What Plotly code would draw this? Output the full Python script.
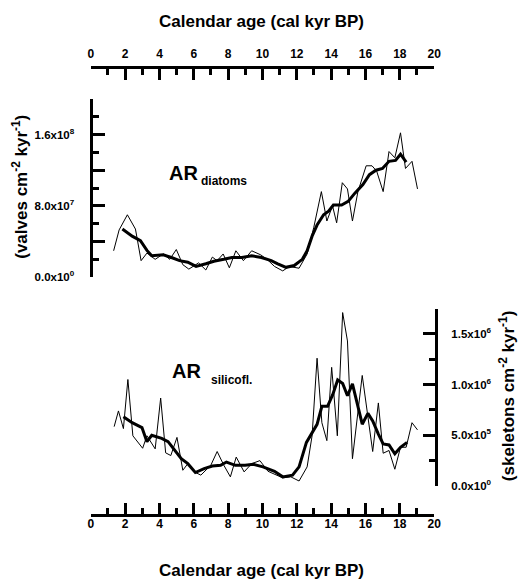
import plotly.graph_objects as go

# ---- data -------------------------------------------------------------
# Diatom accumulation rate (valves cm-2 kyr-1): raw record and smoothed curve
diat_age = [1.33, 1.65, 2.13, 2.6, 2.93, 3.27, 3.75, 4.22, 4.6, 4.98, 5.36, 5.71,
            6.28, 6.7, 7.08, 7.36, 7.71, 8.07, 8.45, 8.89, 9.37, 9.9, 10.32, 10.7,
            11.18, 11.56, 12.13, 12.6, 12.99, 13.43, 13.75, 14.08, 14.32, 14.65,
            14.95, 15.24, 15.56, 16.04, 16.38, 16.65, 17.03, 17.37, 17.71, 18.04,
            18.33, 18.71, 19.03]
diat_val = [2.96e7, 5.3e7, 7.0e7, 5.4e7, 1.85e7, 2.7e7, 2.0e7, 2.6e7, 2.0e7, 3.1e7,
            1.4e7, 0.9e7, 1.6e7, 0.8e7, 2.25e7, 1.85e7, 2.6e7, 1.05e7, 2.96e7, 1.85e7,
            2.96e7, 2.5e7, 1.9e7, 1.2e7, 0.7e7, 1.2e7, 1.0e7, 2.6e7, 5.6e7, 9.6e7,
            6.3e7, 8.0e7, 6.1e7, 10.6e7, 9.9e7, 6.3e7, 9.6e7, 12.5e7, 12.5e7, 11.9e7,
            9.6e7, 14.1e7, 13.4e7, 16.2e7, 12.2e7, 13.0e7, 9.9e7]

diat_sm_age = [1.84, 2.41, 2.89, 3.27, 3.55, 4.22, 4.7, 5.17, 5.65, 6.13, 6.7, 7.17,
               7.75, 8.22, 8.8, 9.37, 9.94, 10.51, 10.89, 11.37, 11.85, 12.32, 12.6,
               12.89, 13.18, 13.56, 13.85, 14.13, 14.61, 14.99, 15.37, 15.85, 16.23,
               16.61, 16.99, 17.37, 17.75, 18.04, 18.37]
diat_sm_val = [5.4e7, 4.6e7, 4.1e7, 3.0e7, 2.4e7, 2.5e7, 2.2e7, 1.85e7, 1.67e7, 1.2e7,
               1.5e7, 1.78e7, 2.0e7, 2.2e7, 2.2e7, 2.4e7, 2.2e7, 1.85e7, 1.5e7, 1.1e7,
               1.3e7, 2.0e7, 2.96e7, 4.6e7, 5.85e7, 7.0e7, 7.4e7, 8.1e7, 8.1e7, 8.5e7,
               9.4e7, 10.4e7, 11.5e7, 12.0e7, 12.2e7, 13.0e7, 13.1e7, 13.8e7, 12.9e7]

# Silicoflagellate accumulation rate (skeletons cm-2 kyr-1)
sil_age = [1.36, 1.61, 1.9, 2.16, 2.45, 2.76, 3.02, 3.27, 3.75, 4.07, 4.36, 4.66,
           5.02, 5.36, 5.65, 6.03, 6.41, 6.99, 7.36, 7.75, 8.13, 8.47, 8.93, 9.37,
           9.85, 10.32, 10.7, 11.18, 11.65, 12.13, 12.6, 12.89, 13.18, 13.46, 13.75,
           14.03, 14.36, 14.67, 14.95, 15.24, 15.81, 16.14, 16.42, 16.75, 17.03,
           17.37, 17.71, 18.04, 18.37, 18.71, 19.03]
sil_val = [5.85e5, 7.4e5, 5.66e5, 10.5e5, 4.95e5, 4.24e5, 3.72e5, 4.95e5, 3.66e5,
           8.67e5, 3.27e5, 3.0e5, 4.79e5, 1.55e5, 2.2e5, 1.39e5, 1.07e5, 2.04e5,
           3.4e5, 2.04e5, 0.9e5, 2.85e5, 1.39e5, 2.2e5, 2.5e5, 1.45e5, 1.13e5,
           0.8e5, 0.9e5, 0.49e5, 1.88e5, 4.95e5, 12.6e5, 6.24e5, 4.47e5, 11.7e5,
           4.95e5, 17.1e5, 14.3e5, 2.69e5, 10.9e5, 6.73e5, 3.4e5, 8.19e5, 3.23e5,
           3.5e5, 1.65e5, 3.82e5, 3.82e5, 6.24e5, 5.53e5]

sil_sm_age = [1.9, 2.41, 2.98, 3.27, 3.55, 4.13, 4.5, 4.88, 5.27, 5.65, 6.09, 6.6,
              7.08, 7.56, 7.9, 8.42, 8.99, 9.46, 10.03, 10.7, 11.18, 11.75, 12.13,
              12.56, 12.89, 13.18, 13.46, 13.79, 14.09, 14.38, 14.67, 14.95, 15.24,
              15.5, 15.81, 16.14, 16.42, 16.75, 17.03, 17.37, 17.71, 18.04, 18.42]
sil_sm_val = [6.83e5, 6.24e5, 5.76e5, 4.37e5, 5.0e5, 4.69e5, 4.37e5, 3.5e5, 2.69e5,
              2.2e5, 1.33e5, 1.72e5, 1.97e5, 2.04e5, 2.36e5, 2.04e5, 2.04e5, 2.14e5,
              1.88e5, 1.45e5, 0.9e5, 1.07e5, 1.88e5, 4.3e5, 5.27e5, 6.08e5, 7.86e5,
              7.86e5, 9.0e5, 10.46e5, 10.1e5, 8.9e5, 10.07e5, 8.19e5, 6.09e5, 7.16e5,
              6.41e5, 5.12e5, 4.15e5, 4.05e5, 3.17e5, 3.82e5, 4.3e5]

# tick positions / labels
age_ticks = list(range(0, 21, 2))
diat_ticks = [0, 4e7, 8e7, 1.2e8, 1.6e8, 2e8]
diat_labels = ["0.0x10<sup>0</sup>", "", "8.0x10<sup>7</sup>", "",
               "1.6x10<sup>8</sup>", ""]
sil_ticks = [0, 5e5, 1e6, 1.5e6, 1.75e6]
sil_labels = ["0.0x10<sup>0</sup>", "5.0x10<sup>5</sup>", "1.0x10<sup>6</sup>",
              "1.5x10<sup>6</sup>", ""]

# ---- layout helpers (pixel -> paper fraction) ------------------------
W, H = 527, 587
def fx(p):
    return p / W
def fy(p):
    return 1 - p / H

FONT = "Liberation Sans, Arial, sans-serif"
X_DOM = [fx(89.5), fx(439.5)]

fig = go.Figure()
thin = dict(color="black", width=1)
thick = dict(color="black", width=3)
fig.add_trace(go.Scatter(x=diat_age, y=diat_val, mode="lines", line=thin,
                         xaxis="x", yaxis="y"))
fig.add_trace(go.Scatter(x=diat_sm_age, y=diat_sm_val, mode="lines", line=thick,
                         xaxis="x", yaxis="y"))
fig.add_trace(go.Scatter(x=sil_age, y=sil_val, mode="lines", line=thin,
                         xaxis="x2", yaxis="y2"))
fig.add_trace(go.Scatter(x=sil_sm_age, y=sil_sm_val, mode="lines", line=thick,
                         xaxis="x2", yaxis="y2"))

axis_common = dict(showline=True, linecolor="black", linewidth=2.5,
                   ticks="inside", tickwidth=2.5, tickcolor="black",
                   showgrid=False, zeroline=False, fixedrange=True,
                   tickfont=dict(family=FONT, size=11.5, color="black", weight="bold"))

x_common = dict(axis_common, domain=X_DOM, range=[0, 20], anchor="free",
                tickmode="array", tickvals=age_ticks, ticklen=11,
                tickfont=dict(family=FONT, size=12, color="black", weight="bold"),
                minor=dict(ticks="inside", ticklen=6, tickwidth=2.5,
                           tickcolor="black", dtick=1, tick0=0))

fig.update_layout(
    width=W, height=H,
    margin=dict(l=0, r=0, t=0, b=0),
    paper_bgcolor="white", plot_bgcolor="rgba(0,0,0,0)",
    showlegend=False,
    xaxis=dict(x_common, side="top", position=fy(68), ticklabelstandoff=4),
    xaxis2=dict(x_common, side="bottom", position=fy(520), ticklabelstandoff=-3),
    yaxis=dict(axis_common, domain=[fy(280), fy(100)], range=[0, 2e8],
               anchor="free", position=fx(90), side="left",
               tickmode="array", tickvals=diat_ticks, ticktext=diat_labels,
               ticklen=12, ticklabelstandoff=14,
               minor=dict(ticks="inside", ticklen=6, tickwidth=2.5,
                          tickcolor="black", dtick=2e7, tick0=0)),
    yaxis2=dict(axis_common, domain=[fy(491), fy(311.7)], range=[0, 1.75e6],
                anchor="free", position=fx(441.7), side="right",
                tickmode="array", tickvals=sil_ticks, ticktext=sil_labels,
                ticklen=13, ticklabelstandoff=11,
                minor=dict(ticks="inside", ticklen=7, tickwidth=2.5,
                           tickcolor="black", dtick=2.5e5, tick0=0)),
)

def txt(text, x, y, size, xanchor="center", yanchor="middle", angle=0):
    fig.add_annotation(text=text, x=x, y=y, xref="paper", yref="paper",
                       xanchor=xanchor, yanchor=yanchor, showarrow=False,
                       textangle=angle,
                       font=dict(family=FONT, size=size, color="black",
                                 weight="bold"))

txt("Calendar age (cal kyr BP)", fx(264), fy(22), 17)
txt("Calendar age (cal kyr BP)", fx(264), fy(576), 17)
txt("(valves cm<sup>-2</sup> kyr<sup>-1</sup>)", fx(17), fy(189), 17, angle=-90)
txt("(skeletons cm<sup>-2</sup> kyr<sup>-1</sup>)", fx(514), fy(400), 17, angle=-90)
txt("AR", fx(184), fy(175), 20)
txt("diatoms", fx(200), fy(183), 12, xanchor="left")
txt("AR", fx(187), fy(375), 20)
txt("silicofl.", fx(210), fy(384), 12, xanchor="left")

fig.write_html("out.html")
